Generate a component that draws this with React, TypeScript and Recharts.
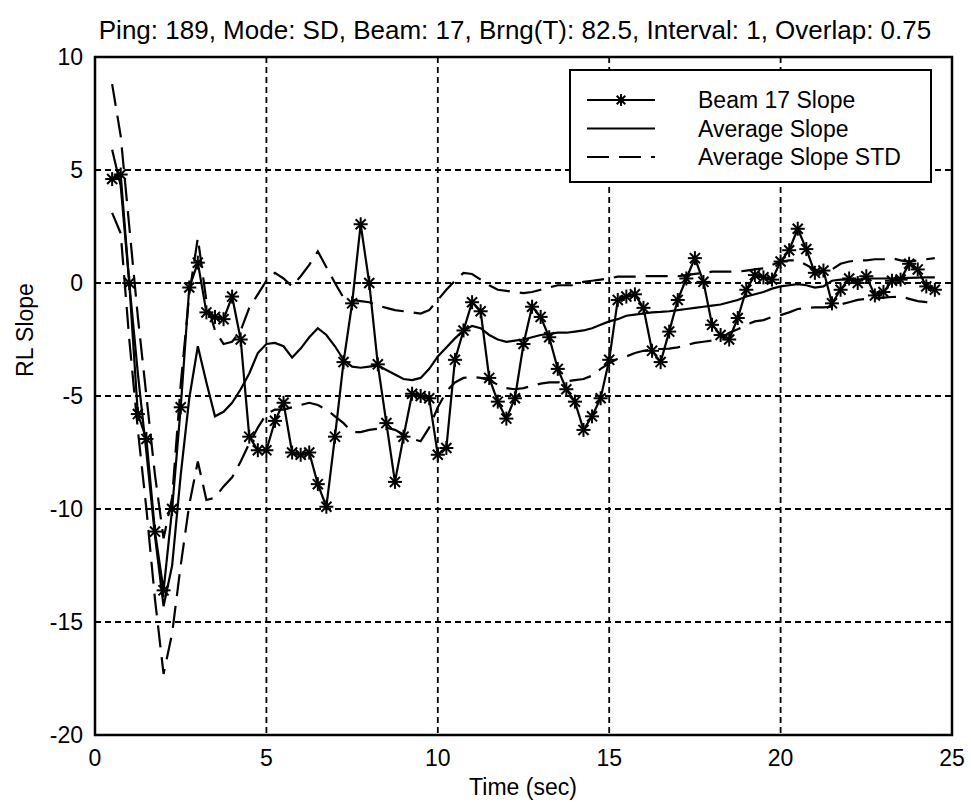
import { LineChart, Line, XAxis, YAxis, CartesianGrid, ReferenceArea } from "recharts";

// time axis (sec), one sample every 0.25 s
const time = [
  0.5, 0.75, 1, 1.25, 1.5, 1.75, 2, 2.25, 2.5, 2.75,
  3, 3.25, 3.5, 3.75, 4, 4.25, 4.5, 4.75, 5, 5.25,
  5.5, 5.75, 6, 6.25, 6.5, 6.75, 7, 7.25, 7.5, 7.75,
  8, 8.25, 8.5, 8.75, 9, 9.25, 9.5, 9.75, 10, 10.25,
  10.5, 10.75, 11, 11.25, 11.5, 11.75, 12, 12.25, 12.5, 12.75,
  13, 13.25, 13.5, 13.75, 14, 14.25, 14.5, 14.75, 15, 15.25,
  15.5, 15.75, 16, 16.25, 16.5, 16.75, 17, 17.25, 17.5, 17.75,
  18, 18.25, 18.5, 18.75, 19, 19.25, 19.5, 19.75, 20, 20.25,
  20.5, 20.75, 21, 21.25, 21.5, 21.75, 22, 22.25, 22.5, 22.75,
  23, 23.25, 23.5, 23.75, 24, 24.25, 24.5,
];

const beamSlope = [
  4.6, 4.8, 0, -5.8, -6.9, -11.0, -13.6, -10.0, -5.5, -0.2,
  0.9, -1.3, -1.5, -1.6, -0.6, -2.5, -6.8, -7.4, -7.4, -6.1,
  -5.3, -7.5, -7.6, -7.5, -8.9, -9.9, -6.8, -3.5, -0.9, 2.6,
  0, -3.6, -6.2, -8.8, -6.8, -4.9, -5.0, -5.1, -7.6, -7.3,
  -3.4, -2.1, -0.85, -1.25, -4.2, -5.25, -6.0, -5.1, -2.7, -1.05,
  -1.5, -2.4, -3.8, -4.7, -5.25, -6.5, -5.9, -5.1, -3.4, -0.75,
  -0.6, -0.5, -1.1, -3.0, -3.5, -2.15, -0.75, 0.2, 1.1, 0.05,
  -1.85, -2.3, -2.5, -1.55, -0.3, 0.35, 0.25, 0.15, 0.95, 1.45,
  2.4, 1.5, 0.45, 0.55, -0.9, -0.3, 0.2, 0.0, 0.3, -0.55,
  -0.4, 0.1, 0.15, 0.85, 0.6, -0.15, -0.3,
];

const avgSlope = [
  5.9, 4.3, 0, -4, -7.5, -11.2, -14.3, -12.5, -8.5, -5.1,
  -2.8, -4.4, -5.9, -5.7, -5.3, -4.7, -4.0, -3.1, -2.7, -2.65,
  -2.8, -3.3, -2.9, -2.4, -2.0, -2.3, -2.8, -3.4, -3.7, -3.75,
  -3.7, -3.65, -3.85, -4.05, -4.25, -4.3, -4.2, -3.8, -3.25, -2.85,
  -2.45, -2.1, -1.9, -2.0, -2.3, -2.5, -2.6, -2.55, -2.5, -2.4,
  -2.3, -2.25, -2.2, -2.2, -2.15, -2.1, -2.0, -1.85, -1.7, -1.6,
  -1.45, -1.4, -1.35, -1.3, -1.28, -1.25, -1.2, -1.15, -1.1, -1.05,
  -1.0, -0.95, -0.85, -0.75, -0.6, -0.5, -0.4, -0.25, -0.15, -0.1,
  -0.05, -0.1, -0.2, -0.15, 0.1, 0.15, 0.15, 0.15, 0.2, 0.2,
  0.2, 0.2, 0.22, 0.23, 0.24, 0.25, 0.25,
];

const stdUpper = [
  8.8, 6.5, 2.5, -1.5, -5, -8.5, -11.3, -9.5, -4.5, -0.5,
  2.0, -0.8, -2.1, -2.7, -2.6, -2.1, -1.1, -0.5, 0.1, 0.45,
  0.2, -0.15, 0.3, 0.8, 1.4, 0.7, 0.0, -0.65, -0.75, -0.8,
  -0.85, -1.0, -1.1, -1.2, -1.25, -1.3, -1.35, -1.2, -0.75, -0.3,
  0.1, 0.45, 0.4, 0.15, -0.1, -0.3, -0.35, -0.4, -0.45, -0.4,
  -0.3, -0.2, -0.1, -0.1, -0.1, 0.05, 0.1, 0.15, 0.2, 0.28,
  0.28, 0.28, 0.3, 0.3, 0.3, 0.3, 0.3, 0.35, 0.4, 0.45,
  0.5, 0.5, 0.5, 0.5, 0.55, 0.6, 0.65, 0.8, 0.95, 1.0,
  1.0, 0.8, 0.6, 0.5, 0.6, 0.85, 0.95, 1.0, 1.0, 1.05,
  1.05, 1.1, 1.0, 0.95, 1.0, 1.05, 1.1,
];

const stdLower = [
  3.1, 2.2, -2.5, -6.5, -10, -14, -17.3, -15.5, -12.5, -9.8,
  -7.9, -9.6, -9.5, -9.0, -8.6, -7.9, -7.1, -6.4, -5.8, -5.6,
  -5.6, -5.5, -5.4, -5.3, -5.4, -5.6, -5.9, -6.2, -6.6, -6.6,
  -6.5, -6.45, -6.4, -6.5, -6.7, -6.9, -7.0, -6.4, -5.5, -4.8,
  -4.4, -4.2, -4.15, -4.2, -4.3, -4.5, -4.65, -4.7, -4.65, -4.55,
  -4.45, -4.4, -4.4, -4.35, -4.3, -4.25, -4.1, -3.8, -3.55, -3.35,
  -3.25, -3.1, -3.0, -2.95, -2.92, -2.9, -2.85, -2.75, -2.65, -2.6,
  -2.55, -2.45, -2.2, -2.05, -1.85, -1.7, -1.64, -1.5, -1.42, -1.3,
  -1.15, -1.1, -1.08, -1.08, -1.05, -0.95, -0.85, -0.75, -0.7, -0.68,
  -0.65, -0.62, -0.6, -0.7, -0.8, -0.85, -0.9,
];

const xTicks = [0, 5, 10, 15, 20, 25];
const yTicks = [-20, -15, -10, -5, 0, 5, 10];

const TITLE = "Ping: 189, Mode: SD, Beam: 17, Brng(T): 82.5, Interval: 1, Overlap: 0.75";
const FONT = "'Liberation Sans', Arial, sans-serif";
const DASH = "22 10";

const data = time.map((t, i) => ({
  t,
  beam: beamSlope[i],
  avg: avgSlope[i],
  upper: stdUpper[i],
  lower: stdLower[i],
}));

function StarGlyph({ cx, cy, r = 7 }: { cx: number; cy: number; r?: number }) {
  const d = r * 0.72;
  return (
    <g stroke="#000" strokeWidth={2}>
      <line x1={cx - r} y1={cy} x2={cx + r} y2={cy} />
      <line x1={cx} y1={cy - r} x2={cx} y2={cy + r} />
      <line x1={cx - d} y1={cy - d} x2={cx + d} y2={cy + d} />
      <line x1={cx - d} y1={cy + d} x2={cx + d} y2={cy - d} />
    </g>
  );
}

const starDot = (props: any) => {
  const { cx, cy, index } = props;
  if (cx == null || cy == null) return <g key={index} />;
  return (
    <g key={index}>
      <StarGlyph cx={cx} cy={cy} />
    </g>
  );
};

function LegendBox() {
  const rows = [
    { label: "Beam 17 Slope", dash: undefined, star: true },
    { label: "Average Slope", dash: undefined, star: false },
    { label: "Average Slope STD", dash: DASH, star: false },
  ];
  return (
    <svg width={363} height={114} style={{ display: "block" }}>
      <rect x={1} y={1} width={361} height={112} fill="#fff" stroke="#000" strokeWidth={2} />
      {rows.map((r, i) => {
        const y = 31 + i * 28.5;
        return (
          <g key={r.label}>
            <line x1={18} y1={y} x2={86} y2={y} stroke="#000" strokeWidth={2.2} strokeDasharray={r.dash} />
            {r.star && <StarGlyph cx={52} cy={y} r={6} />}
            <text x={129} y={y} dy="0.36em" fontSize={23} fontFamily={FONT} fill="#000">
              {r.label}
            </text>
          </g>
        );
      })}
    </svg>
  );
}

export default function App() {
  return (
    <div style={{ position: "absolute", left: 0, top: 0, width: 971, height: 806, background: "#fff" }}>
      <div
        style={{
          position: "absolute",
          left: 0,
          width: 1030,
          top: 16,
          textAlign: "center",
          fontFamily: FONT,
          fontSize: 26,
          lineHeight: "28px",
          color: "#000",
          whiteSpace: "nowrap",
        }}
      >
        {TITLE}
      </div>
      <div
        style={{
          position: "absolute",
          left: 0,
          width: 1046,
          top: 774,
          textAlign: "center",
          fontFamily: FONT,
          fontSize: 23,
          lineHeight: "26px",
          color: "#000",
        }}
      >
        Time (sec)
      </div>
      <div
        style={{
          position: "absolute",
          left: 25,
          top: 330,
          transform: "translate(-50%, -50%) rotate(-90deg)",
          fontFamily: FONT,
          fontSize: 23,
          lineHeight: "26px",
          color: "#000",
          whiteSpace: "nowrap",
        }}
      >
        RL Slope
      </div>
      <div style={{ position: "absolute", left: 0, top: 0 }}>
        <LineChart
          width={971}
          height={806}
          data={data}
          margin={{ top: 57, right: 19, bottom: 21, left: 35 }}
        >
          <CartesianGrid stroke="#000" strokeWidth={1.8} strokeDasharray="6 4" />
          <XAxis
            dataKey="t"
            type="number"
            domain={[0, 25]}
            ticks={xTicks}
            height={50}
            tickLine={false}
            axisLine={false}
            tickSize={6}
            tickMargin={9}
            tick={{ fill: "#000", fontSize: 23, fontFamily: FONT }}
          />
          <YAxis
            type="number"
            domain={[-20, 10]}
            ticks={yTicks}
            width={60}
            tickLine={false}
            axisLine={false}
            tickSize={6}
            tickMargin={6}
            tick={{ fill: "#000", fontSize: 23, fontFamily: FONT }}
          />
          <ReferenceArea x1={0} x2={25} y1={-20} y2={10} fill="none" stroke="#000" strokeWidth={2.5} />
          <Line
            dataKey="upper"
            type="linear"
            stroke="#000"
            strokeWidth={2.2}
            strokeDasharray={DASH}
            dot={false}
            isAnimationActive={false}
          />
          <Line
            dataKey="lower"
            type="linear"
            stroke="#000"
            strokeWidth={2.2}
            strokeDasharray={DASH}
            dot={false}
            isAnimationActive={false}
          />
          <Line
            dataKey="avg"
            type="linear"
            stroke="#000"
            strokeWidth={2.2}
            dot={false}
            isAnimationActive={false}
          />
          <Line
            dataKey="beam"
            type="linear"
            stroke="#000"
            strokeWidth={2.2}
            dot={starDot}
            isAnimationActive={false}
          />
        </LineChart>
      </div>
      <div style={{ position: "absolute", left: 569, top: 69 }}>
        <LegendBox />
      </div>
    </div>
  );
}
